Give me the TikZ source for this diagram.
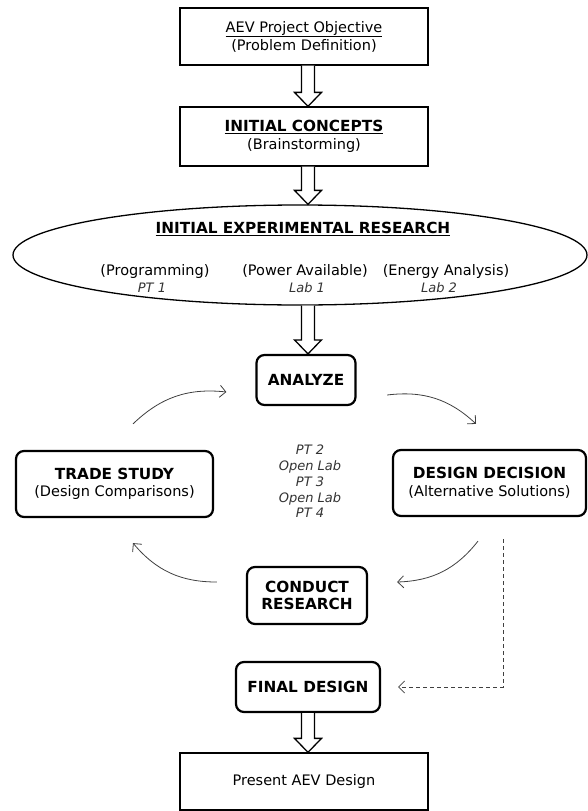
\documentclass[tikz,border=0pt]{standalone}
\usepackage{fontspec}
\setmainfont{DejaVu Sans}
\usetikzlibrary{positioning,shapes.geometric,calc,arrows.meta}

% hollow block arrow between two nodes (optional x offset)
\newcommand{\blockarrow}[3][4]{%
  \path ($(#2.south)+(#1,0)$) coordinate (ba-top);
  \path (ba-top |- #3.north) coordinate (ba-tip);
  \draw[hollow] ($(ba-top)+(-6.5,0)$) -- ($(ba-tip)+(-6.5,14)$) -- ($(ba-tip)+(-13.5,14)$)
    -- (ba-tip) -- ($(ba-tip)+(13.5,14)$) -- ($(ba-tip)+(6.5,14)$) -- ($(ba-top)+(6.5,0)$);}
\newcommand{\heading}[1]{{\fontsize{15.3}{18}\selectfont\bfseries #1}}

\begin{document}
\begin{tikzpicture}[x=1pt, y=1pt, node distance=100pt, on grid, inner xsep=2pt,
  plainbox/.style={draw, line width=1.3pt, minimum width=248pt, minimum height=57pt, align=center, font=\fontsize{14.5}{18}\selectfont},
  roundbox/.style={draw, rounded corners=8pt, line width=2.2pt, align=center, font=\fontsize{14.5}{17.5}\selectfont},
  hollow/.style={draw, line width=1.3pt, fill=white, line join=miter},
  cyclearrow/.style={draw=black!75, line width=0.8pt, -{Straight Barb[length=6pt,width=12pt]}, bend left=25},
  note/.style={font=\fontsize{13}{15.75}\selectfont\itshape, text=black!80, align=center},
  item/.style={font=\fontsize{14.5}{18}\selectfont}]
\useasboundingbox (0,0) rectangle (588,-811);

\node[plainbox] (obj) at (304,-36.5) {\underline{AEV Project Objective}\\(Problem Definition)};
\node[plainbox, minimum height=59pt] (concepts) [below=100pt of obj] {\underline{\heading{INITIAL CONCEPTS}}\\(Brainstorming)};
\node[ellipse, draw, line width=1.3pt, minimum width=574pt, minimum height=100pt] (exper) [below=118.5pt of concepts, xshift=-4pt] {};
\node[item] (exptitle) [above=26pt of exper, xshift=3pt] {\underline{\heading{INITIAL EXPERIMENTAL RESEARCH}}};
\node[item] (prog) [below left=16pt and 145pt of exper] {(Programming)};
\node[item] (power) [below right=16pt and 5pt of exper] {(Power Available)};
\node[item] (energy) [below right=16pt and 146pt of exper] {(Energy Analysis)};
\node[note] (pt1) [below=17pt of prog, xshift=-3pt] {PT 1};
\node[note] (lab1) [below=17pt of power, xshift=2pt] {Lab 1};
\node[note] (lab2) [below=17pt of energy, xshift=-7pt] {Lab 2};

\node[roundbox, minimum width=99pt, minimum height=50pt] (analyze) [below=125pt of exper, xshift=6pt] {\heading{ANALYZE}};
\node[roundbox, minimum width=197pt, minimum height=66pt] (trade) [below left=104pt and 191.5pt of analyze] {\heading{TRADE STUDY}\\(Design Comparisons)};
\node[roundbox, minimum width=193pt, minimum height=66pt] (decision) [below right=103pt and 183.5pt of analyze] {\heading{DESIGN DECISION}\\(Alternative Solutions)};
\node[note] (sessions) [below=101.5pt of analyze, xshift=4pt] {PT 2\\Open Lab\\PT 3\\Open Lab\\PT 4};
\node[roundbox, minimum width=120pt, minimum height=57pt] (conduct) [below=215.5pt of analyze, xshift=1pt] {\heading{CONDUCT}\\\heading{RESEARCH}};
\node[roundbox, minimum width=144pt, minimum height=50pt] (final) [below=91.5pt of conduct, xshift=1pt] {\heading{FINAL DESIGN}};
\node[plainbox] (present) [below=94.5pt of final, xshift=-4pt] {Present AEV Design};

% main flow
\blockarrow{obj}{concepts}
\blockarrow{concepts}{exper}
\blockarrow[8]{exper}{analyze}
\blockarrow[0]{final}{present}

% design cycle
\draw[cyclearrow] ($(analyze.east)+(30.5,-15)$) to ($(decision.north)+(-13.5,25)$);
\draw[cyclearrow] ($(decision.south)+(-11.5,-24)$) to ($(conduct.east)+(29,13.5)$);
\draw[cyclearrow] ($(conduct.west)+(-29,13.5)$) to ($(trade.south)+(18.5,-25)$);
\draw[cyclearrow] ($(trade.north)+(18.5,26)$) to ($(analyze.west)+(-29,-12)$);

% shortcut to the final design
\coordinate (dstart) at ($(decision.south)+(13.5,-22)$);
\draw[black!75, line width=0.8pt, dash pattern=on 4pt off 3pt, -{Straight Barb[length=6pt,width=12pt]}]
  (dstart) |- ($(final.east)+(17,0)$);
\end{tikzpicture}
\end{document}
